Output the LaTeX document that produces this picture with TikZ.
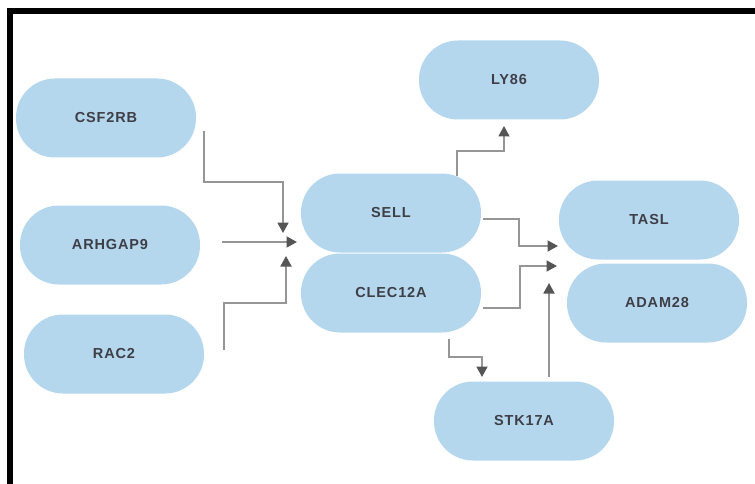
\documentclass[tikz,border=0pt]{standalone}
\usepackage{fontspec}
\setmainfont{Liberation Sans}
\usetikzlibrary{arrows.meta}
\definecolor{nodefill}{RGB}{180,215,238}
\definecolor{labeltext}{RGB}{62,62,70}
\definecolor{wire}{RGB}{150,150,150}
\definecolor{tipgray}{RGB}{85,85,85}
\tikzset{
  gene/.style={rectangle, rounded corners=39pt, fill=nodefill, draw=none,
    minimum width=180pt, minimum height=79pt, inner sep=0pt,
    text=labeltext, font=\fontsize{14.5}{16}\selectfont\bfseries\addfontfeature{LetterSpace=6}},
  link/.style={draw=wire, line width=1.8pt,
    -{Triangle[length=10.5pt,width=11pt,color=tipgray]}},
  frame/.style={line width=5.5pt, black, line join=miter}
}
\begin{document}
\begin{tikzpicture}[x=1pt,y=-1pt]
  \useasboundingbox (0,0) rectangle (755,484);
  % outer frame (top and left sides)
  \draw[frame] (10,490) -- (10,11) -- (760,11);

  % genes
  \node[gene] (csf)  at (106,118) {CSF2RB};
  \node[gene] (arh)  at (110,245) {ARHGAP9};
  \node[gene] (rac)  at (114,354) {RAC2};
  \node[gene] (sell) at (391,213) {SELL};
  \node[gene] (clec) at (391,293) {CLEC12A};
  \node[gene] (ly)   at (509,80)  {LY86};
  \node[gene] (tasl) at (649,220) {TASL};
  \node[gene] (adam) at (657,303) {ADAM28};
  \node[gene] (stk)  at (524,421) {STK17A};

  % connector ends
  \coordinate (csf-out)  at (204,131);
  \coordinate (csf-in)   at (283,233);
  \coordinate (arh-out)  at (222,242);
  \coordinate (arh-in)   at (297,242);
  \coordinate (rac-out)  at (224,350);
  \coordinate (rac-in)   at (286,256);
  \coordinate (sell-up)  at (457,176);
  \coordinate (ly-in)    at (504,126);
  \coordinate (sell-out) at (483,219);
  \coordinate (tasl-in)  at (558,246);
  \coordinate (clec-out) at (483,308);
  \coordinate (adam-in)  at (557,266);
  \coordinate (clec-dn)  at (449,339);
  \coordinate (stk-in)   at (482,377);
  \coordinate (stk-out)  at (549,377);
  \coordinate (stk-up)   at (549,283);

  % connectors
  \draw[link] (csf-out) -- (204,182) -| (csf-in);
  \draw[link] (arh-out) -- (arh-in);
  \draw[link] (rac-out) -- (224,303) -| (rac-in);
  \draw[link] (sell-up) -- (457,151) -| (ly-in);
  \draw[link] (sell-out) -- (519,219) |- (tasl-in);
  \draw[link] (clec-out) -- (520,308) |- (adam-in);
  \draw[link] (clec-dn) -- (449,357) -| (stk-in);
  \draw[link] (stk-out) -- (stk-up);
\end{tikzpicture}
\end{document}
